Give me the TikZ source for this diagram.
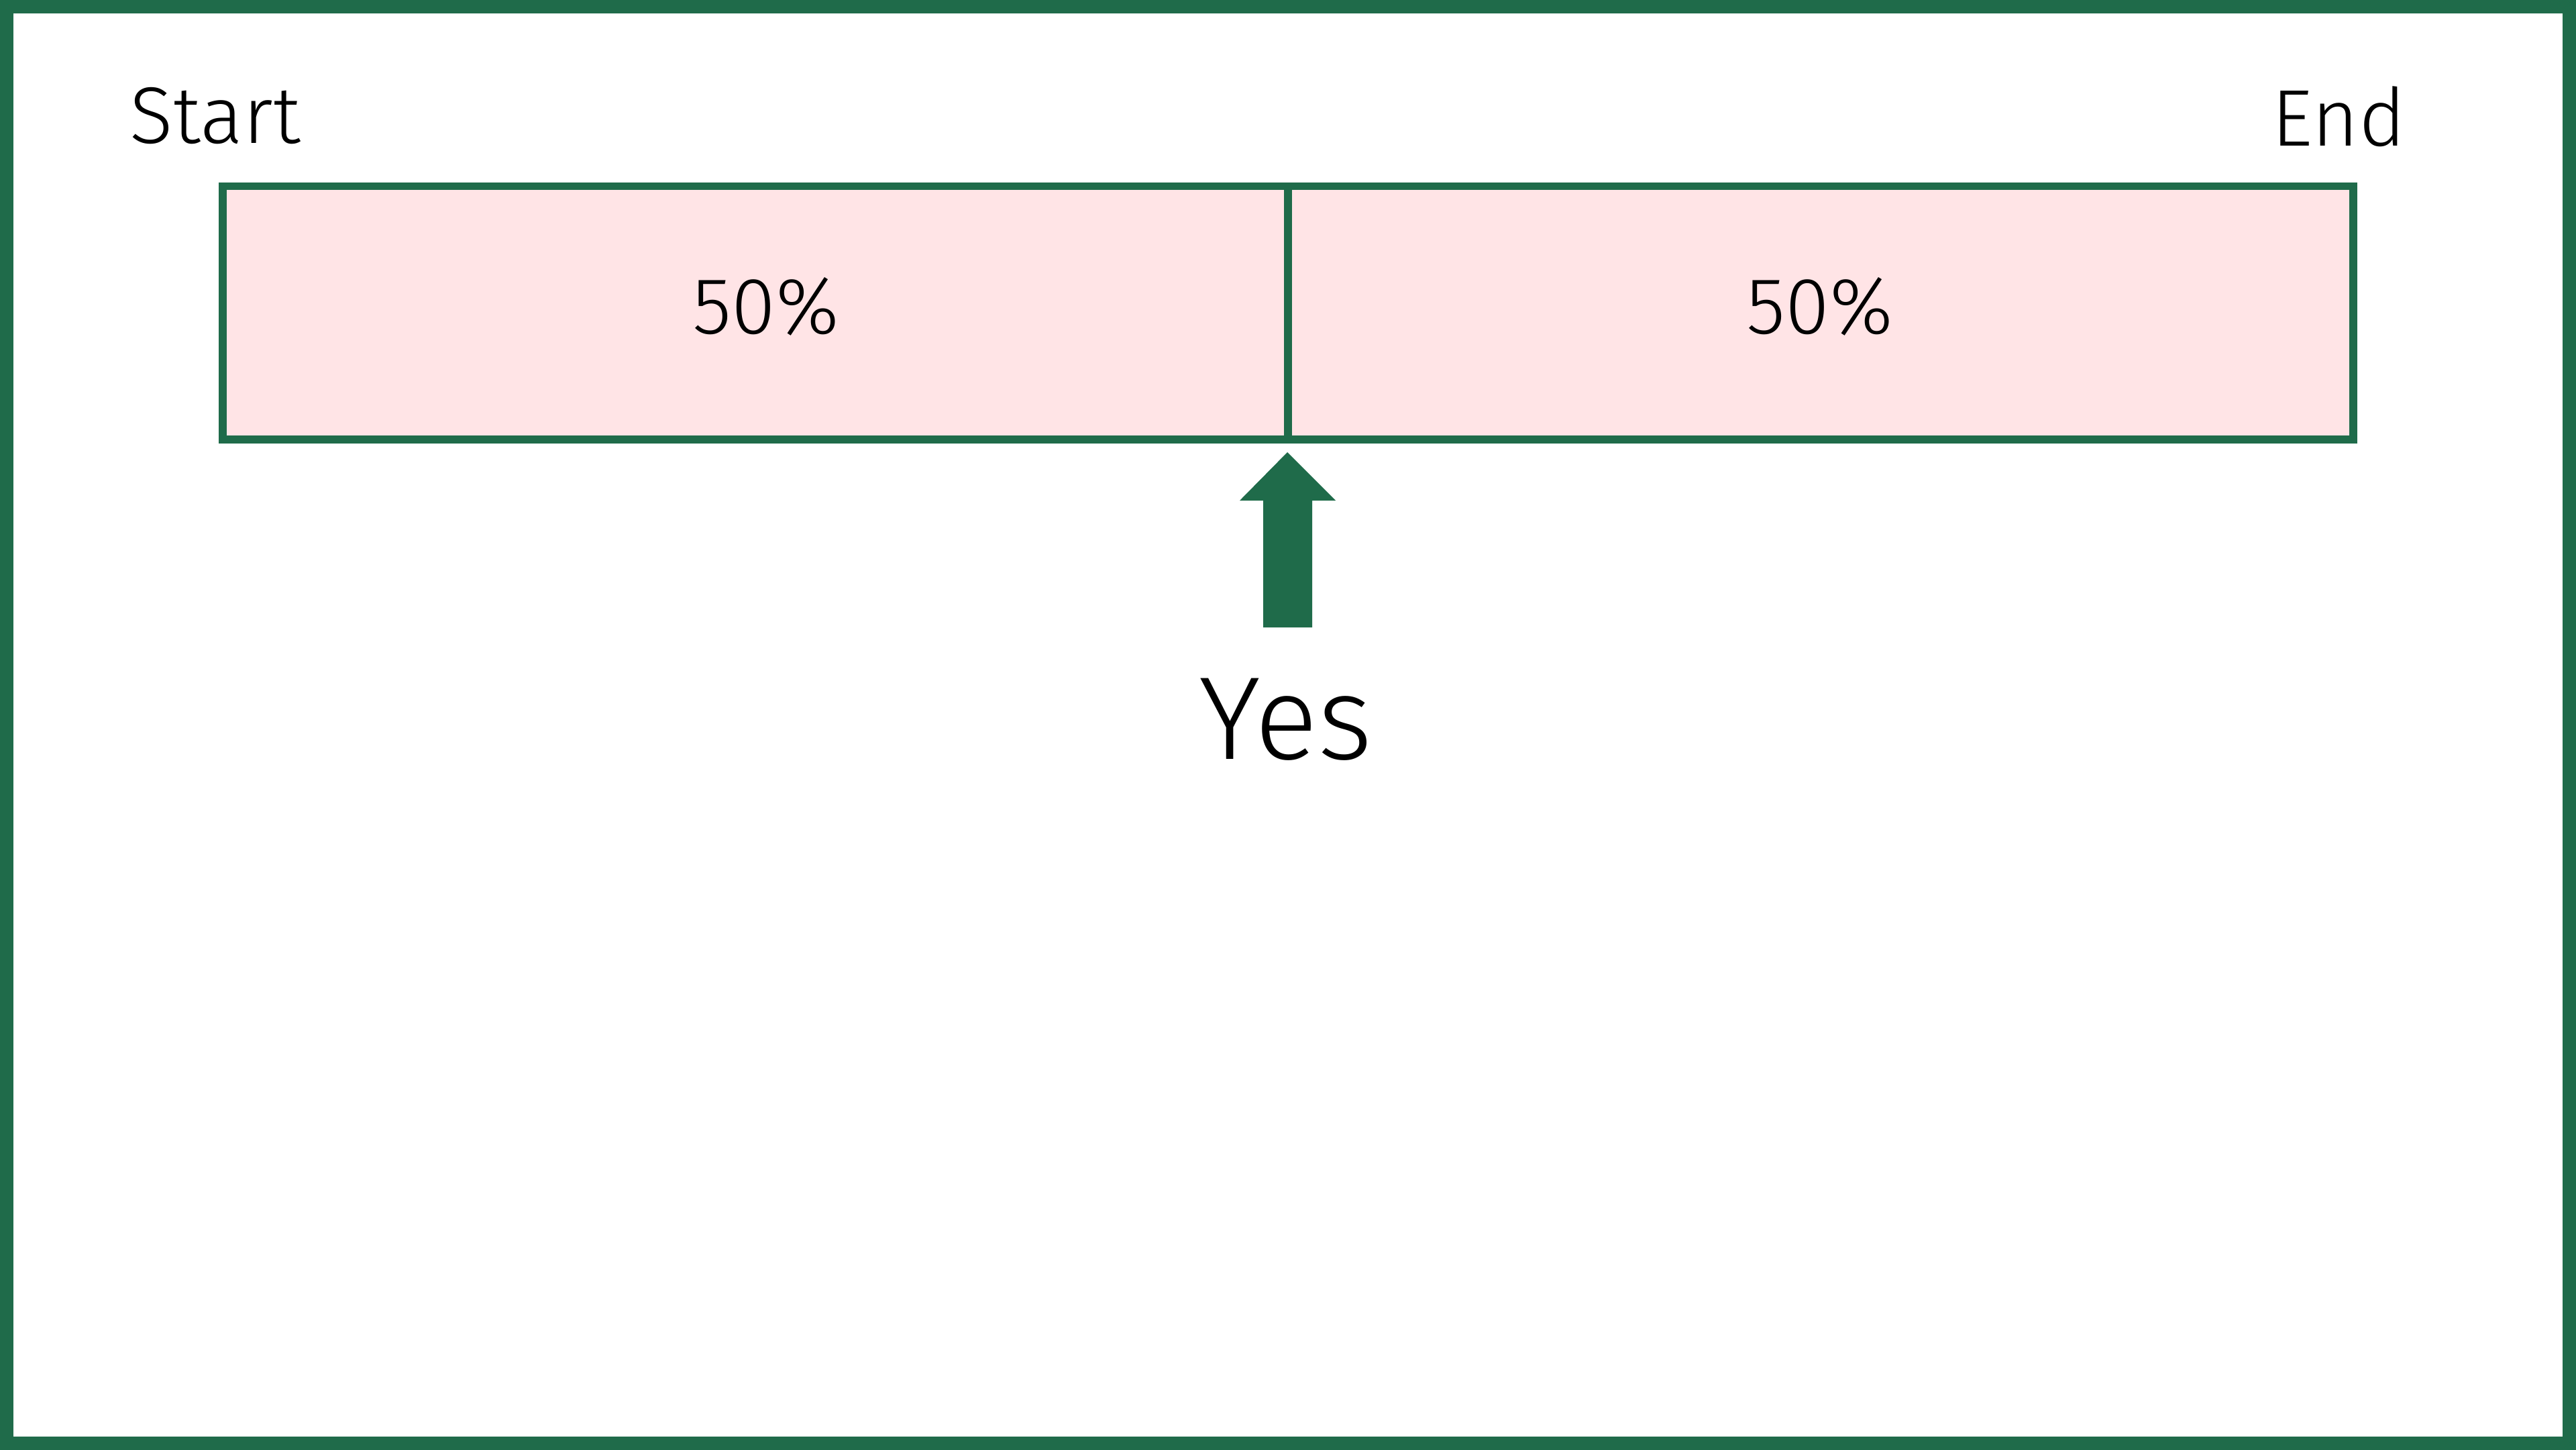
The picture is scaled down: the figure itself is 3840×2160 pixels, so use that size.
\documentclass[tikz,border=0pt]{standalone}
\usepackage{fontspec}
\setmainfont{Fira Sans}[UprightFont=* Light]
\usepackage{tikz}
\usetikzlibrary{positioning}
\definecolor{framegreen}{RGB}{31,107,74}
\definecolor{cellpink}{RGB}{255,228,230}
\pgfdeclarelayer{nodelayer}
\pgfdeclarelayer{edgelayer}
\pgfsetlayers{edgelayer,nodelayer,main}
\tikzstyle{none}=[inner sep=0pt]
\tikzstyle{label}=[inner sep=0pt, font=\fontsize{34}{40}\selectfont]
\tikzstyle{biglabel}=[inner sep=0pt, font=\fontsize{50}{58}\selectfont]
\tikzset{cell/.style={draw=framegreen, fill=cellpink, line width=0.115cm}}
\tikzset{frame/.style={draw=framegreen, line width=0.2cm}}

\begin{document}
\begin{tikzpicture}[x=0.01cm, y=-0.01cm]
	\useasboundingbox (0,0) rectangle (3840,2160);
	\begin{pgfonlayer}{nodelayer}
		\node [style=none] (0) at (332, 277.5) {};
		\node [style=none] (1) at (1920, 655) {};
		\node [style=none] (2) at (1920, 277.5) {};
		\node [style=none] (3) at (3508, 655) {};
		\node [style=label, anchor=base west] (4) at (193, 213) {Start};
		\node [style=label, anchor=base east] (5) at (3587, 217) {End};
		\node [style=label, anchor=base] (6) at (1142, 497) {50\%};
		\node [style=label, anchor=base] (7) at (2713, 497) {50\%};
		\node [style=none] (8) at (1919, 674) {};
		\node [style=none] (9) at (1991, 746) {};
		\node [style=none] (10) at (1956, 746) {};
		\node [style=none] (11) at (1956, 935) {};
		\node [style=none] (12) at (1883, 935) {};
		\node [style=none] (13) at (1883, 746) {};
		\node [style=none] (14) at (1848, 746) {};
		\node [style=biglabel, anchor=base] (15) at (1917, 1131) {Yes};
		\node [style=none] (16) at (10, 10) {};
		\node [style=none] (17) at (3830, 2151) {};
	\end{pgfonlayer}
	\begin{pgfonlayer}{edgelayer}
		\draw [style=frame] (16.center) rectangle (17.center);
		\draw [style=cell] (0.center) rectangle (1.center);
		\draw [style=cell] (2.center) rectangle (3.center);
		\fill [framegreen] (8.center) -- (9.center) -- (10.center) -- (11.center)
			-- (12.center) -- (13.center) -- (14.center) -- cycle;
	\end{pgfonlayer}
\end{tikzpicture}
\end{document}
